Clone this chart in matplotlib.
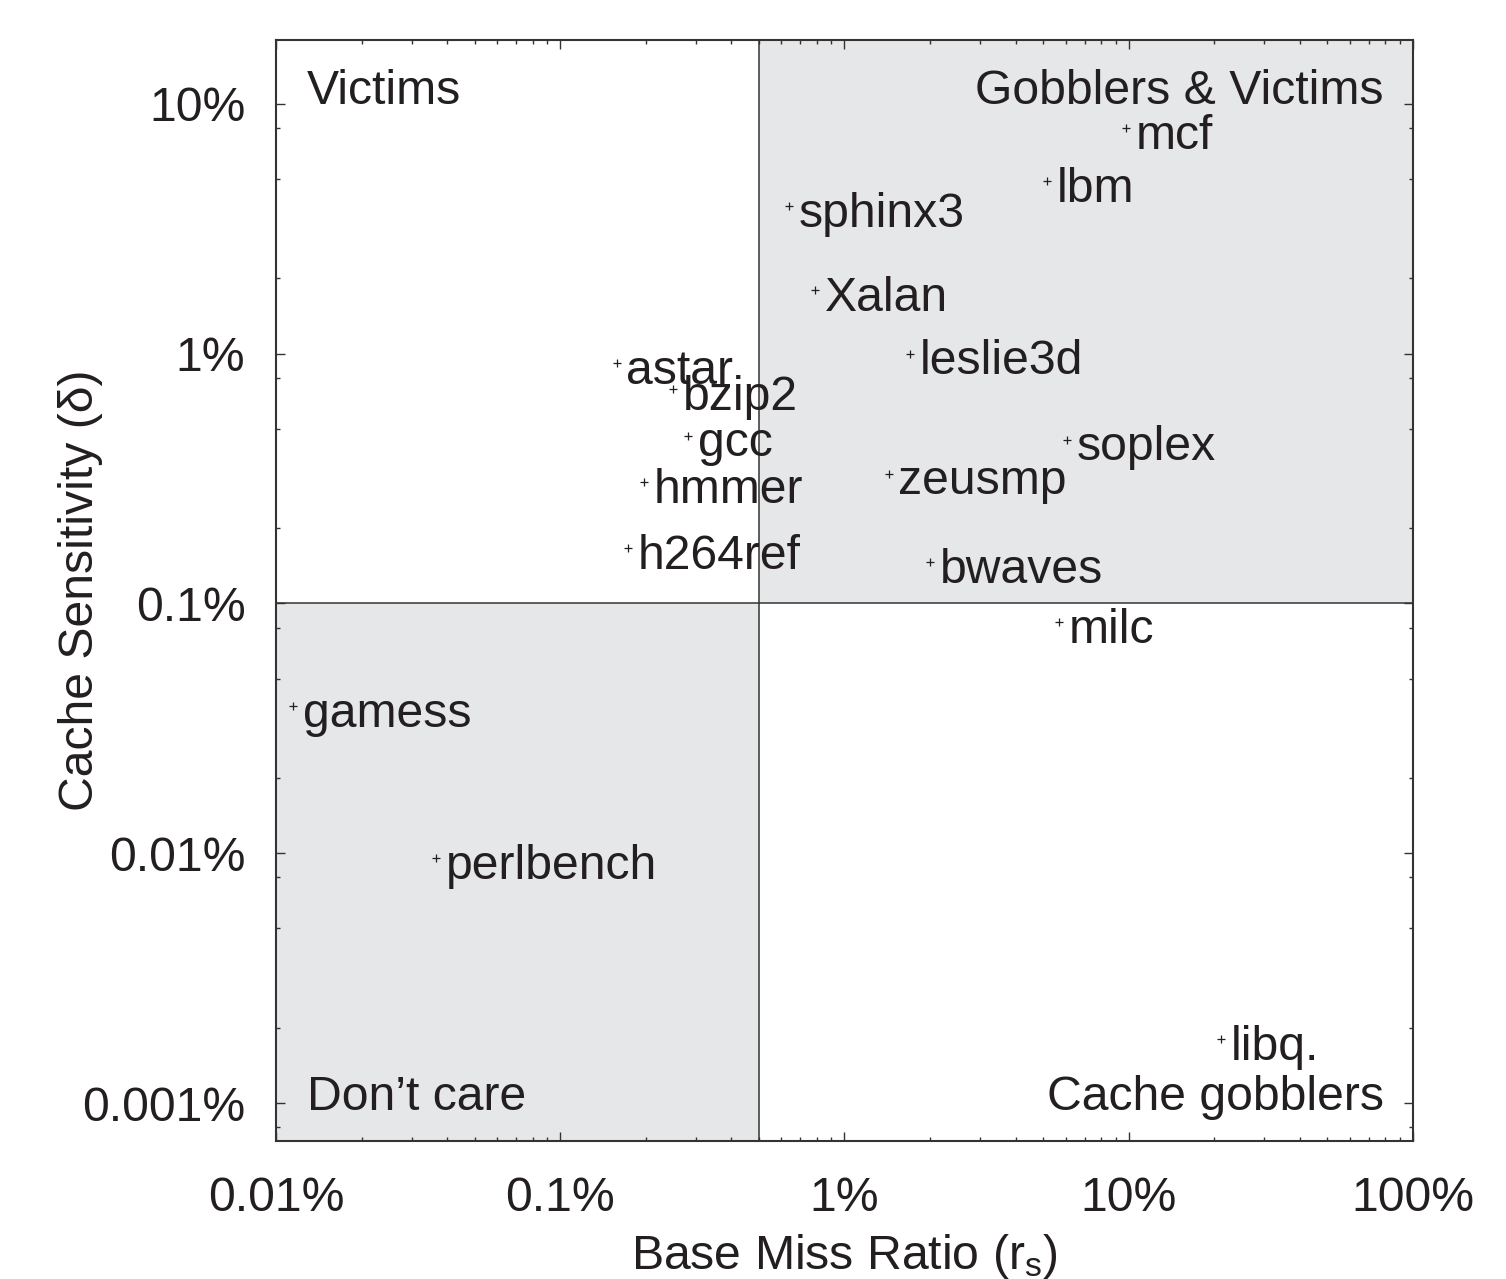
import matplotlib
matplotlib.use("Agg")
import matplotlib.pyplot as plt
from matplotlib.ticker import LogLocator, FuncFormatter, NullFormatter
from matplotlib.patches import Rectangle

# benchmarks: base miss ratio (%) vs cache sensitivity (%)
names = ["mcf", "lbm", "sphinx3", "Xalan", "leslie3d", "astar", "bzip2", "gcc",
         "hmmer", "h264ref", "soplex", "zeusmp", "bwaves", "milc", "gamess",
         "perlbench", "libq."]
miss_ratio = [9.8, 5.15, 0.64, 0.79, 1.7, 0.158, 0.249, 0.281,
              0.197, 0.173, 6.07, 1.43, 2.0, 5.69, 0.0115,
              0.0365, 21.1]
sensitivity = [8.0, 4.9, 3.9, 1.8, 1.0, 0.92, 0.72, 0.47,
               0.305, 0.167, 0.453, 0.331, 0.146, 0.084, 0.0387,
               0.0096, 0.0018]

# quadrant thresholds
miss_split = 0.5
sens_split = 0.1

x_ticks = [0.01, 0.1, 1, 10, 100]
y_ticks = [0.001, 0.01, 0.1, 1, 10]

ink = "#231f20"
shade = "#e6e7e8"
fs = 34.7

plt.rcParams["font.family"] = ["Liberation Sans", "DejaVu Sans"]
plt.rcParams["mathtext.fontset"] = "custom"
plt.rcParams["mathtext.rm"] = "Liberation Sans"
plt.rcParams["mathtext.it"] = "Liberation Sans"
plt.rcParams["text.color"] = ink
plt.rcParams["axes.labelcolor"] = ink
plt.rcParams["xtick.color"] = "#333333"
plt.rcParams["ytick.color"] = "#333333"
plt.rcParams["xtick.labelcolor"] = ink
plt.rcParams["ytick.labelcolor"] = ink

fig = plt.figure(figsize=(15.06, 12.79), dpi=100)
ax = fig.add_axes([0.1833, 0.1079, 0.7549, 0.8608])

ax.set_xscale("log")
ax.set_yscale("log")
xmin, xmax = 0.01, 100
ymin, ymax = 0.000705, 18.0

# shaded quadrants
ax.add_patch(Rectangle((miss_split, sens_split), xmax - miss_split, ymax - sens_split,
                       facecolor=shade, edgecolor="none", zorder=0))
ax.add_patch(Rectangle((xmin, ymin), miss_split - xmin, sens_split - ymin,
                       facecolor=shade, edgecolor="none", zorder=0))
ax.axvline(miss_split, color="#333333", lw=1.1, zorder=1)
ax.axhline(sens_split, color="#333333", lw=1.1, zorder=1)

ax.plot(miss_ratio, sensitivity, linestyle="none", marker="+", markersize=6,
        markeredgewidth=0.9, color=ink, zorder=3)
for name, xv, yv in zip(names, miss_ratio, sensitivity):
    ax.annotate(name, (xv, yv), xytext=(7, -15), textcoords="offset points",
                ha="left", va="baseline", fontsize=fs, color=ink, zorder=4)

# quadrant names
ax.text(0.0128, 10, "Victims", ha="left", va="baseline", fontsize=fs)
ax.text(79, 10, "Gobblers & Victims", ha="right", va="baseline", fontsize=fs)
ax.text(0.0128, 0.00094, "Don\u2019t care", ha="left", va="baseline", fontsize=fs)
ax.text(79, 0.00094, "Cache gobblers", ha="right", va="baseline", fontsize=fs)

pct = FuncFormatter(lambda v, pos: "{:g}%".format(v))
ax.xaxis.set_minor_locator(LogLocator(base=10, subs=range(2, 10)))
ax.yaxis.set_minor_locator(LogLocator(base=10, subs=(2, 5, 8)))
ax.set_xticks(x_ticks)
ax.set_yticks(y_ticks)
ax.xaxis.set_major_formatter(pct)
ax.yaxis.set_major_formatter(pct)
ax.xaxis.set_minor_formatter(NullFormatter())
ax.yaxis.set_minor_formatter(NullFormatter())
ax.set_xlim(xmin, xmax)
ax.set_ylim(ymin, ymax)

ax.tick_params(which="both", direction="in", top=True, right=True, width=1.0)
ax.tick_params(which="major", length=6.5, labelsize=fs)
ax.tick_params(axis="y", which="major", pad=22)
ax.tick_params(axis="x", which="major", pad=25)
ax.tick_params(which="minor", length=3.2)
for sp in ax.spines.values():
    sp.set_color("#333333")
    sp.set_linewidth(1.5)

ax.set_xlabel(r"Base Miss Ratio (r$_\mathregular{s}$)", fontsize=fs, labelpad=8)
ax.set_ylabel("Cache Sensitivity (\u03b4)", fontsize=fs)
ax.yaxis.set_label_coords(-0.152, 0.5)

fig.savefig("out.png", dpi=100)
